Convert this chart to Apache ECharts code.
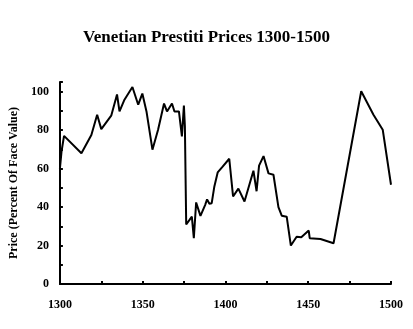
<!DOCTYPE html>
<html><head><meta charset="utf-8">
<script src="https://cdn.jsdelivr.net/npm/echarts@6/dist/echarts.min.js"></script>
<style>html,body{margin:0;padding:0;background:#fff}#c{width:413px;height:329px}</style>
</head><body><div id="c"></div>
<script>
const years = [1300,1301,1302.5,1313,1319,1322.5,1325,1331,1334.5,1336,1339,1343.8,1347.3,1349.8,1352.3,1355.9,1359.3,1362.9,1364.7,1367.7,1369.2,1371.9,1373.7,1374.9,1375.5,1376.3,1378.3,1379.7,1380.9,1382.3,1384.9,1387.7,1388.9,1390.3,1391.7,1393.3,1395.3,1398.3,1402.3,1404.6,1407.8,1411.5,1416.9,1418.8,1420.3,1423,1426,1429,1432,1434,1437,1439.5,1443,1445.8,1450.3,1450.9,1457.4,1465.3,1482,1489.4,1495,1500];
const prices = [60,69,77,68,77.5,88,80.5,87.5,98.5,89.7,95.8,102.4,93.2,99,89.7,69.8,80.2,93.8,89.7,93.8,89.7,89.7,76.7,92.7,82,31,33.3,35,23.8,42.4,35.4,41,44,41.7,42,50.7,58,61,65.1,45.5,49.6,42.9,58.9,48.2,61.5,66.5,57.5,56.8,40,35.5,35,20,24.6,24.3,27.8,23.8,23.4,21.2,100.2,88,80.2,51.6];
const xTicks = [1300,1350,1400,1450,1500];
const yTicks = [0,20,40,60,80,100];
const title = 'Venetian Prestiti Prices 1300-1500';
const yName = 'Price (Percent Of Face Value)';

const font = 'Liberation Serif';
const chart = echarts.init(document.getElementById('c'));
chart.setOption({
  animation:false,
  backgroundColor:'#fff',
  title:{text:title,left:'center',top:24,textStyle:{fontFamily:font,fontSize:17,fontWeight:'bold',color:'#000'}},
  grid:{left:58,right:22,top:82,bottom:45,containLabel:false},
  xAxis:{type:'value',min:1300,max:1500,interval:25,
    axisLine:{lineStyle:{color:'#000',width:2}},
    axisTick:{inside:true,length:3,lineStyle:{color:'#000',width:2}},
    axisLabel:{margin:15,color:'#000',fontFamily:font,fontWeight:'bold',fontSize:12,
      formatter:v=>xTicks.includes(v)?String(v):''},
    splitLine:{show:false}},
  yAxis:{type:'value',min:0,max:105,interval:10,
    name:yName,nameLocation:'middle',nameGap:28,nameRotate:90,
    nameTextStyle:{fontFamily:font,fontWeight:'bold',fontSize:12,color:'#000'},
    axisLine:{show:true,lineStyle:{color:'#000',width:2}},
    axisTick:{show:true,inside:true,length:3,lineStyle:{color:'#000',width:2}},
    axisLabel:{margin:11,color:'#000',fontFamily:font,fontWeight:'bold',fontSize:12,
      showMaxLabel:true,
      formatter:v=>yTicks.includes(v)?String(v):''},
    splitLine:{show:false}},
  series:[{type:'line',data:years.map((y,i)=>[y,prices[i]]),showSymbol:false,
    lineStyle:{color:'#000',width:2},itemStyle:{color:'#000'}}]
});
</script></body></html>
